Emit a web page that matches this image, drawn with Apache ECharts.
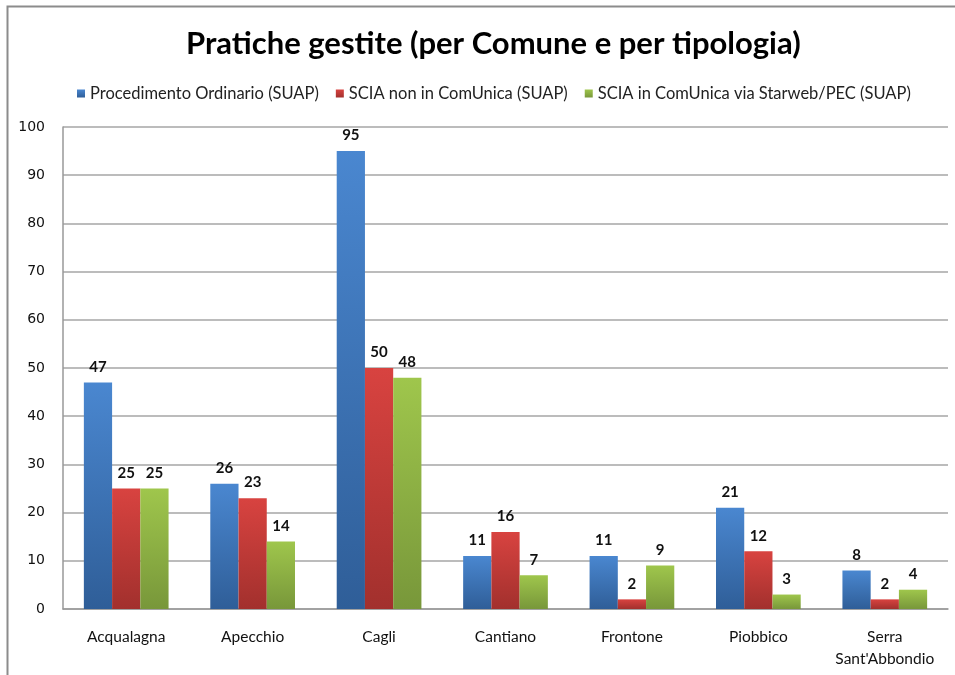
<!DOCTYPE html>
<html>
<head>
<meta charset="utf-8">
<script src="https://cdn.jsdelivr.net/npm/echarts@6/dist/echarts.min.js"></script>
<style>
  html, body { margin: 0; padding: 0; background: #fff; }
  #chart { width: 955px; height: 675px; }
</style>
</head>
<body>
<div id="chart"></div>
<script>
const comuni = ['Acqualagna', 'Apecchio', 'Cagli', 'Cantiano', 'Frontone', 'Piobbico', 'Serra\nSant\'Abbondio']
const ordinario = [47, 26, 95, 11, 11, 21, 8]
const sciaNon = [25, 23, 50, 16, 2, 12, 2]
const sciaIn = [25, 14, 48, 7, 9, 3, 4]
const seriesNames = ['Procedimento Ordinario (SUAP)', 'SCIA non in ComUnica (SUAP)', 'SCIA in ComUnica via Starweb/PEC (SUAP)']

const font = 'Lato, "Open Sans", sans-serif'

function grad(top, bottom) {
  return {
    type: 'linear', x: 0, y: 0, x2: 0, y2: 1,
    colorStops: [{ offset: 0, color: top }, { offset: 1, color: bottom }]
  }
}

const colors = [
  grad('#4a87d0', '#2f5e98'),
  grad('#d84340', '#a2302d'),
  grad('#9fc64c', '#78973a')
]
const legendColors = ['#3d74bb', '#c23b38', '#8db443']

function bar(name, data, i) {
  return {
    name: name,
    type: 'bar',
    data: data,
    barGap: '0%',
    barCategoryGap: '33%',
    itemStyle: { color: colors[i] },
    label: {
      show: true,
      position: 'top',
      distance: 8,
      color: '#111',
      fontWeight: 'bold',
      fontSize: 15,
      fontFamily: font
    }
  }
}

const chart = echarts.init(document.getElementById('chart'))
chart.setOption({
  animation: false,
  color: legendColors,
  graphic: [{
    type: 'polyline',
    shape: { points: [[7.5, 680], [7.5, 6.5], [960, 6.5]] },
    style: { stroke: '#8c8c8c', lineWidth: 2, fill: null }
  }],
  title: {
    text: 'Pratiche gestite (per Comune e per tipologia)',
    left: 181,
    top: 23,
    textStyle: { fontFamily: font, fontWeight: 'bold', fontSize: 31, color: '#000' }
  },
  legend: {
    top: 80,
    left: 72,
    itemWidth: 8,
    itemHeight: 8,
    itemGap: 17,
    icon: 'rect',
    textStyle: { fontFamily: font, fontSize: 16.5, color: '#222' },
    data: seriesNames
  },
  grid: { left: 63, right: 7, top: 127, bottom: 66 },
  xAxis: {
    type: 'category',
    data: comuni,
    axisLine: { lineStyle: { color: '#999', width: 1.5 } },
    axisTick: { show: false },
    axisLabel: { interval: 0, fontFamily: font, fontSize: 15.5, color: '#111', margin: 17, lineHeight: 22 }
  },
  yAxis: {
    type: 'value',
    min: 0,
    max: 100,
    interval: 10,
    axisLine: { show: true, lineStyle: { color: '#999', width: 1.5 } },
    axisTick: { show: false },
    splitLine: { lineStyle: { color: '#a6a6a6', width: 1.5 } },
    axisLabel: { fontFamily: '"DejaVu Sans", sans-serif', fontSize: 14, color: '#111', margin: 18 }
  },
  series: [
    bar(seriesNames[0], ordinario, 0),
    bar(seriesNames[1], sciaNon, 1),
    bar(seriesNames[2], sciaIn, 2)
  ]
})
</script>
</body>
</html>
